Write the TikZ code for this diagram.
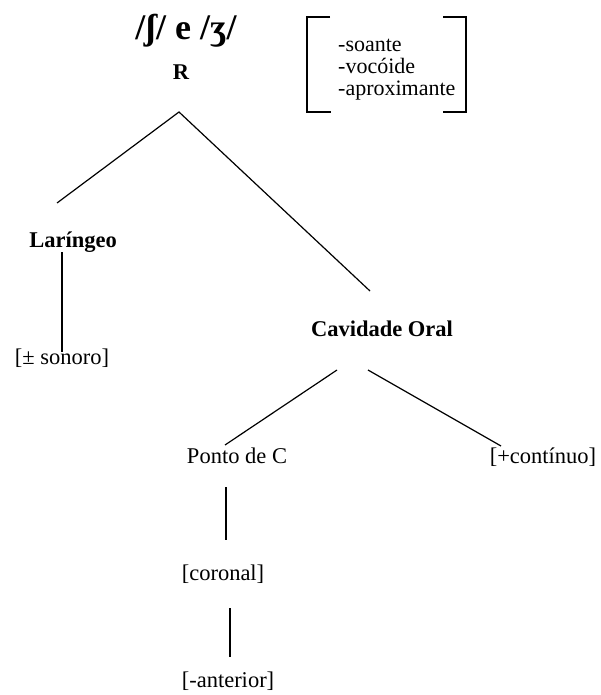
\documentclass[tikz,border=0pt]{standalone}
\usepackage{fontspec}
\setmainfont{Liberation Serif}
\begin{document}
\begin{tikzpicture}[x=1pt,y=-1pt,
  lbl/.style={inner sep=0pt,anchor=base,font=\fontsize{22.5}{26}\selectfont},
  blbl/.style={inner sep=0pt,anchor=base,font=\fontsize{22.5}{26}\selectfont\bfseries},
  feat/.style={inner sep=0pt,anchor=base west,text height=14pt,text depth=0pt,font=\fontsize{22}{22}\selectfont},
  edge/.style={line width=1.2pt}]
\useasboundingbox (0,0) rectangle (601,695);
\node[inner sep=0pt,anchor=base,font=\fontsize{36}{40}\selectfont\bfseries] (title) at (186,40) {/ʃ/ e /ʒ/};
\node[blbl] (R) at (181,80) {R};
\node[feat] (f1) at (338,52) {-soante};
\node[feat] (f2) at (338,74) {-vocóide};
\node[feat] (f3) at (338,96) {-aproximante};
\coordinate (bl1) at (330,17); \coordinate (bl2) at (307,17);
\coordinate (bl3) at (307,112); \coordinate (bl4) at (331,112);
\coordinate (br1) at (443,17); \coordinate (br2) at (466,17);
\coordinate (br3) at (466,112); \coordinate (br4) at (443,112);
\draw[edge] (bl1) -- (bl2) -- (bl3) -- (bl4);
\draw[edge] (br1) -- (br2) -- (br3) -- (br4);
\node[blbl] (lar) at (73,247) {Laríngeo};
\node[lbl] (son) at (62,364) {[± sonoro]};
\node[blbl] (cav) at (382,336) {Cavidade Oral};
\node[lbl] (pto) at (237,463) {Ponto de C};
\node[lbl] (cont) at (543,463) {[+contínuo]};
\node[lbl] (cor) at (223,580) {[coronal]};
\node[lbl] (ant) at (228,687) {[-anterior]};
\coordinate (Rb) at (179,112);
\coordinate (larT) at (57,203);
\coordinate (cavT) at (370,291);
\coordinate (larB) at (62,252);
\coordinate (sonT) at (62,352);
\coordinate (cavBL) at (337,370);
\coordinate (cavBR) at (368,370);
\coordinate (ptoT) at (225,445);
\coordinate (contT) at (501,446);
\coordinate (ptoB) at (226,487);
\coordinate (corT) at (226,540);
\coordinate (corB) at (230,608);
\coordinate (antT) at (230,657);
\draw[edge] (larT) -- (Rb) -- (cavT);
\draw[edge] (larB) -- (sonT);
\draw[edge] (cavBL) -- (ptoT);
\draw[edge] (cavBR) -- (contT);
\draw[edge] (ptoB) -- (corT);
\draw[edge] (corB) -- (antT);
\end{tikzpicture}
\end{document}
